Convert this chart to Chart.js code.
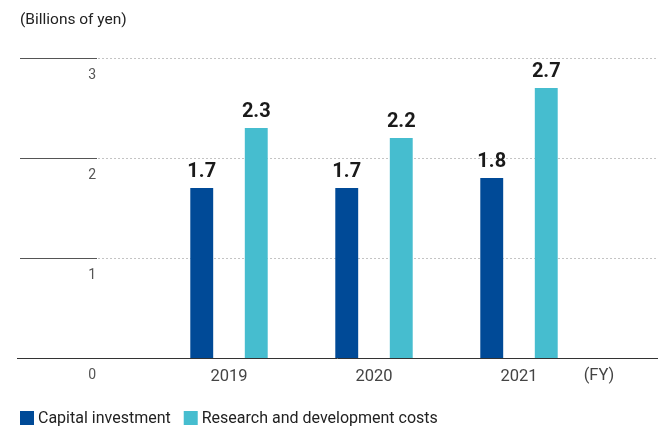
<!DOCTYPE html>
<html>
<head>
<meta charset="utf-8">
<script src="https://cdn.jsdelivr.net/npm/chart.js@4.4.1/dist/chart.umd.min.js"></script>
<style>
  html, body { margin: 0; padding: 0; background: #fff; }
  #wrap { position: relative; width: 662px; height: 430px; }
</style>
</head>
<body>
<div id="wrap"><canvas id="chart" width="662" height="430"></canvas></div>
<script>
const years = ["2019", "2020", "2021"];
const capitalInvestment = [1.7, 1.7, 1.8];
const rdCosts = [2.3, 2.2, 2.7];
const yTicks = [0, 1, 2, 3];
const unitLabel = "(Billions of yen)";
const fyLabel = "(FY)";
const seriesNames = ["Capital investment", "Research and development costs"];
const seriesColors = ["#004a97", "#46bdcf"];

const FONT = "Roboto, 'Noto Sans', sans-serif";

// gridlines, tick labels, x labels, value labels, legend
const decorPlugin = {
  id: "decor",
  beforeDatasetsDraw(chart) {
    const ctx = chart.ctx;
    const y = chart.scales.y;
    ctx.save();
    yTicks.forEach((v) => {
      const py = Math.round(y.getPixelForValue(v)) + 0.5;
      if (v === 0) {
        ctx.strokeStyle = "#333";
        ctx.lineWidth = 1;
        ctx.setLineDash([]);
        ctx.beginPath();
        ctx.moveTo(17, py);
        ctx.lineTo(658, py);
        ctx.stroke();
      } else {
        ctx.strokeStyle = "#555";
        ctx.lineWidth = 1;
        ctx.setLineDash([]);
        ctx.beginPath();
        ctx.moveTo(20, py);
        ctx.lineTo(97, py);
        ctx.stroke();
        ctx.strokeStyle = "#c4c4c4";
        ctx.setLineDash([2, 2]);
        ctx.beginPath();
        ctx.moveTo(98, py);
        ctx.lineTo(658, py);
        ctx.stroke();
      }
      ctx.setLineDash([]);
      ctx.fillStyle = "#555";
      ctx.font = "14px " + FONT;
      ctx.textAlign = "right";
      ctx.textBaseline = "middle";
      ctx.fillText(String(v), 96, py + 17);
    });
    ctx.restore();
  },
  afterDatasetsDraw(chart) {
    const ctx = chart.ctx;
    const x = chart.scales.x;
    ctx.save();
    // value labels
    ctx.fillStyle = "#1a1a1a";
    ctx.font = "bold 20px " + FONT;
    ctx.textAlign = "center";
    ctx.textBaseline = "bottom";
    chart.data.datasets.forEach((ds, di) => {
      chart.getDatasetMeta(di).data.forEach((bar, i) => {
        ctx.fillText(ds.data[i].toFixed(1), bar.x, bar.y - 6);
      });
    });
    // x labels
    ctx.fillStyle = "#444";
    ctx.font = "16.5px " + FONT;
    ctx.textBaseline = "middle";
    years.forEach((yr, i) => {
      ctx.fillText(yr, x.getPixelForValue(i), 377);
    });
    ctx.fillText(fyLabel, 599, 376);
    // unit
    ctx.fillStyle = "#222";
    ctx.font = "15.5px " + FONT;
    ctx.textAlign = "left";
    ctx.fillText(unitLabel, 20, 20);
    // legend
    ctx.font = "16px " + FONT;
    let lx = 20;
    seriesNames.forEach((name, i) => {
      ctx.fillStyle = seriesColors[i];
      ctx.fillRect(lx, 411, 14, 14);
      ctx.fillStyle = "#222";
      ctx.fillText(name, lx + 18, 419);
      lx += 18 + ctx.measureText(name).width + 13;
    });
    ctx.restore();
  },
};

new Chart(document.getElementById("chart"), {
  type: "bar",
  data: {
    labels: years,
    datasets: [
      {
        label: seriesNames[0],
        data: capitalInvestment,
        backgroundColor: seriesColors[0],
        categoryPercentage: 0.752,
        barPercentage: 0.42,
      },
      {
        label: seriesNames[1],
        data: rdCosts,
        backgroundColor: seriesColors[1],
        categoryPercentage: 0.752,
        barPercentage: 0.42,
      },
    ],
  },
  options: {
    responsive: false,
    animation: false,
    layout: { padding: { left: 156.5, right: 70.5, top: 58, bottom: 72 } },
    plugins: {
      legend: { display: false },
      tooltip: { enabled: false },
    },
    scales: {
      x: { display: false },
      y: { display: false, min: 0, max: 3 },
    },
  },
  plugins: [decorPlugin],
});
</script>
</body>
</html>
